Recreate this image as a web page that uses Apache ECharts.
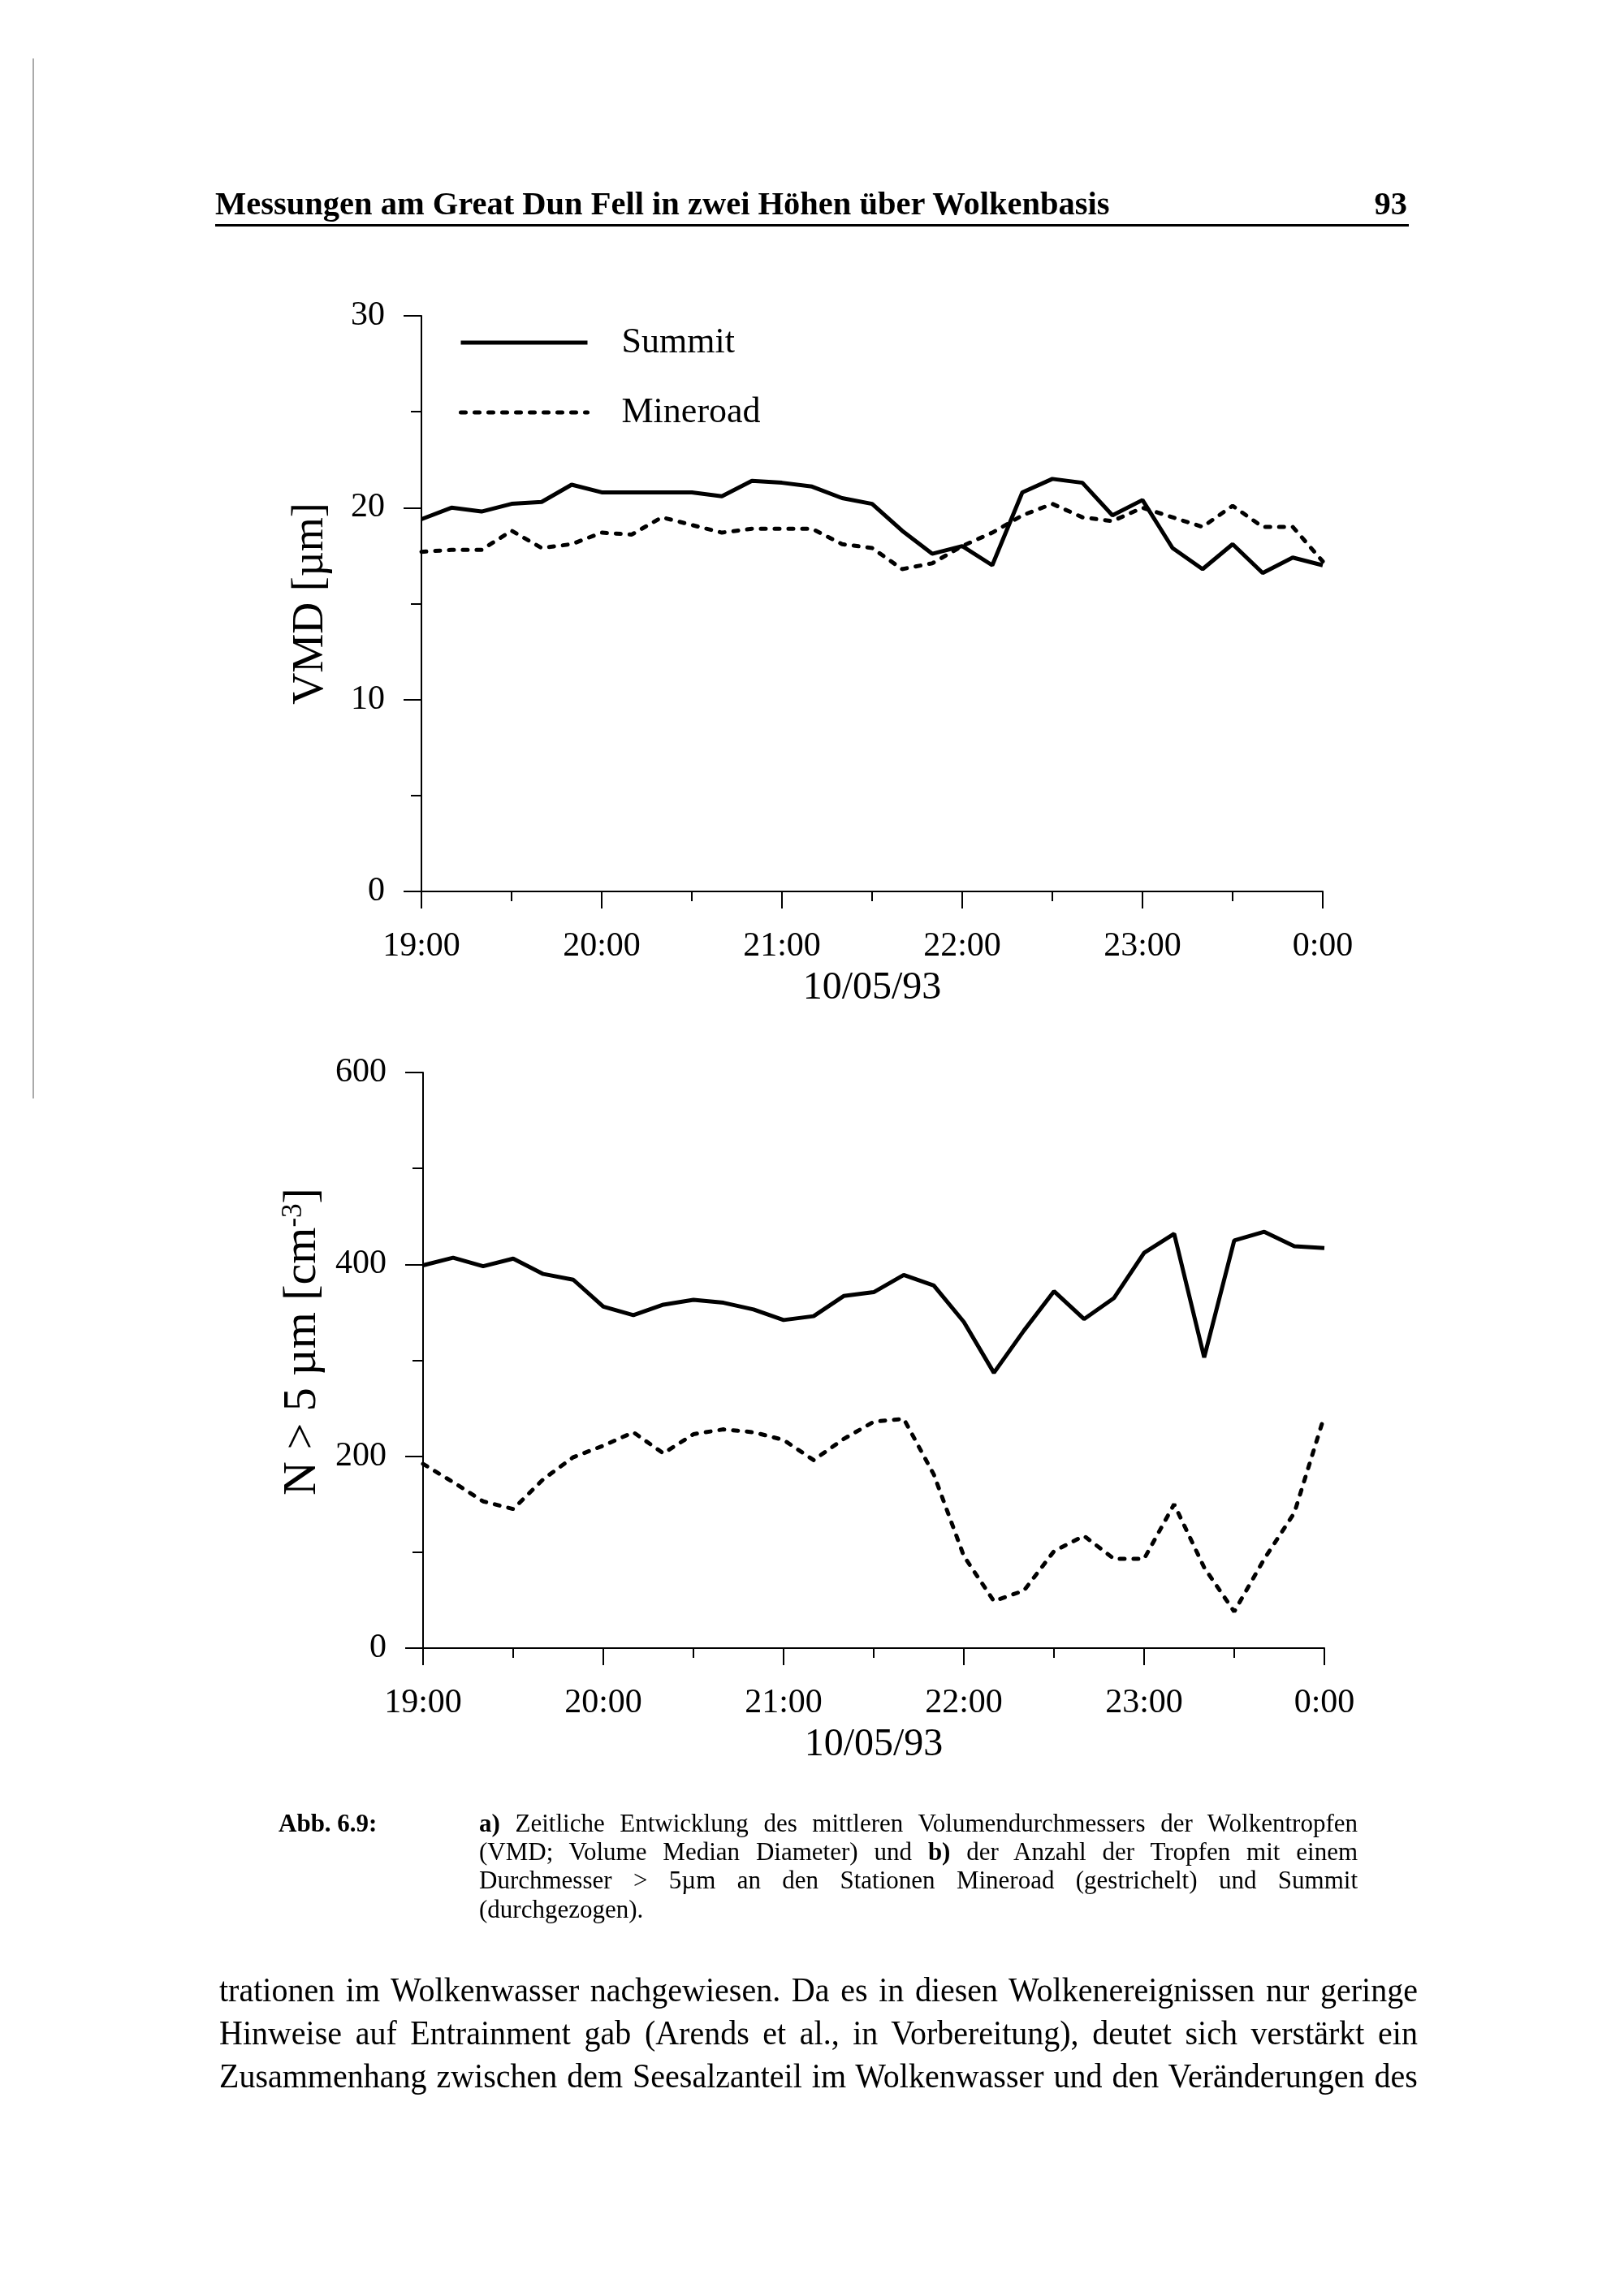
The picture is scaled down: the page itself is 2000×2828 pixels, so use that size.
<!DOCTYPE html>
<html><head><meta charset="utf-8">
<script src="https://cdn.jsdelivr.net/npm/echarts@6/dist/echarts.min.js"></script>
<style>
html,body{margin:0;padding:0;background:#fff;}
#chart{position:absolute;left:0;top:0;width:2000px;height:2828px;}
.t{position:absolute;font-family:'Liberation Serif','Times New Roman',serif;color:#000;white-space:nowrap;}
.j{text-align:justify;text-align-last:justify;}
.b{transform:scaleX(0.93);transform-origin:0 0;width:1587px;font-size:43px;line-height:43px;left:270px;}
</style></head><body>
<div id="chart"></div>

<div class="t" style="left:265px;top:231px;font-size:40.5px;line-height:40px;font-weight:bold;">Messungen am Great Dun Fell in zwei Höhen über Wolkenbasis</div>
<div class="t" style="right:267px;top:231px;font-size:40.5px;line-height:40px;font-weight:bold;">93</div>
<div style="position:absolute;left:265px;top:276px;width:1470px;height:3px;background:#000;"></div>

<div class="t" style="left:343px;top:2230px;font-size:31px;line-height:31px;font-weight:bold;">Abb. 6.9:</div>
<div class="t j" style="left:590px;width:1082px;top:2230px;font-size:31px;line-height:31px;"><b>a)</b> Zeitliche Entwicklung des mittleren Volumendurchmessers der Wolkentropfen</div>
<div class="t j" style="left:590px;width:1082px;top:2265px;font-size:31px;line-height:31px;">(VMD; Volume Median Diameter) und <b>b)</b> der Anzahl der Tropfen mit einem</div>
<div class="t j" style="left:590px;width:1082px;top:2300px;font-size:31px;line-height:31px;">Durchmesser &gt; 5µm an den Stationen Mineroad (gestrichelt) und Summit</div>
<div class="t" style="left:590px;top:2336px;font-size:31px;line-height:31px;">(durchgezogen).</div>

<div class="t j b" style="top:2429px;">trationen im Wolkenwasser nachgewiesen. Da es in diesen Wolkenereignissen nur geringe</div>
<div class="t j b" style="top:2482px;">Hinweise auf Entrainment gab (Arends et al., in Vorbereitung), deutet sich verstärkt ein</div>
<div class="t j b" style="top:2535px;">Zusammenhang zwischen dem Seesalzanteil im Wolkenwasser und den Veränderungen des</div>

<script>
// ---- data ----
const minutes = [0,10,20,30,40,50,60,70,80,90,100,110,120,130,140,150,160,170,180,190,200,210,220,230,240,250,260,270,280,290,300];
const hourLabels = ['19:00','20:00','21:00','22:00','23:00','0:00'];
const dateLabel = '10/05/93';
const vmdSummit   = [19.4,20.0,19.8,20.2,20.3,21.2,20.8,20.8,20.8,20.8,20.6,21.4,21.3,21.1,20.5,20.2,18.8,17.6,18.0,17.0,20.8,21.5,21.3,19.6,20.4,17.9,16.8,18.1,16.6,17.4,17.0];
const vmdMineroad = [17.7,17.8,17.8,18.8,17.9,18.1,18.7,18.6,19.5,19.1,18.7,18.9,18.9,18.9,18.1,17.9,16.8,17.1,18.0,18.7,19.6,20.2,19.5,19.3,20.0,19.5,19.0,20.1,19.0,19.0,17.2];
const nSummit   = [399,407,398,406,390,384,356,347,358,363,360,353,342,346,367,371,389,378,340,287,331,372,343,365,412,432,303,425,434,419,417];
const nMineroad = [192,173,153,145,176,199,211,225,203,223,228,225,217,196,218,236,239,181,96,49,60,101,117,93,93,150,84,38,93,141,242];
const seriesNames = ['Summit','Mineroad'];
const vmdTitle = 'VMD [µm]';
const nTitle = 'N > 5 µm [cm{sup|-3}]';

const FONT = "'Liberation Serif','Times New Roman',serif";
const pairs = (ys) => minutes.map((m,i) => [m, ys[i]]);

function xAxisCfg(g){
  return {
    type:'value', gridIndex:g, min:0, max:300, interval:60,
    axisLine:{show:true, onZero:false, lineStyle:{color:'#000', width:2}},
    axisTick:{show:true, length:21, lineStyle:{color:'#000', width:2}},
    minorTick:{show:true, splitNumber:2, length:12, lineStyle:{color:'#000', width:2}},
    splitLine:{show:false}, minorSplitLine:{show:false},
    axisLabel:{margin:47, fontSize:42, fontFamily:FONT, color:'#000',
      formatter:(v)=>hourLabels[Math.round(v/60)]},
    name:dateLabel, nameLocation:'middle', nameGap:95,
    nameTextStyle:{fontSize:48, fontFamily:FONT, color:'#000'}
  };
}
function yAxisCfg(g, max, interval, name, fs, gap, pad){
  return {
    type:'value', gridIndex:g, min:0, max:max, interval:interval,
    axisLine:{show:true, onZero:false, lineStyle:{color:'#000', width:2}},
    axisTick:{show:true, length:22, lineStyle:{color:'#000', width:2}},
    minorTick:{show:true, splitNumber:2, length:13, lineStyle:{color:'#000', width:2}},
    splitLine:{show:false}, minorSplitLine:{show:false},
    axisLabel:{margin:45, fontSize:42, fontFamily:FONT, color:'#000'},
    name:name, nameLocation:'middle', nameGap:gap,
    nameTextStyle:{fontSize:fs, fontFamily:FONT, color:'#000', padding:pad,
      rich:{sup:{fontSize:Math.round(fs*0.6), fontFamily:FONT, color:'#000', verticalAlign:'top'}}}
  };
}
const solid = {color:'#000', width:5, type:'solid'};
const dashed = {color:'#000', width:5, type:[6,11], cap:'round'};

const chart = echarts.init(document.getElementById('chart'), null, {renderer:'canvas', width:2000, height:2828});
chart.setOption({
  animation:false,
  backgroundColor:'#fff',
  grid:[
    {left:519, width:1110, top:389, height:709},
    {left:521, width:1110, top:1321, height:709}
  ],
  xAxis:[xAxisCfg(0), xAxisCfg(1)],
  yAxis:[yAxisCfg(0,30,10,vmdTitle,54,109,[0,0,0,0]), yAxisCfg(1,600,200,nTitle,58,105,[0,0,0,46])],
  legend:{
    data:seriesNames, orient:'vertical', left:560, top:395,
    itemWidth:156, itemHeight:14, itemGap:42, selectedMode:false,
    itemStyle:{color:'rgba(0,0,0,0)', borderColor:'rgba(0,0,0,0)', borderWidth:0, opacity:0},
    lineStyle:{width:5, color:'#000'},
    textStyle:{fontSize:44, fontFamily:FONT, color:'#000', padding:[0,0,0,37]}
  },
  graphic:[
    {type:'line', shape:{x1:41, y1:72, x2:41, y2:1353}, style:{stroke:'#aaa', lineWidth:2}}
  ],
  series:[
    {name:seriesNames[0], type:'line', xAxisIndex:0, yAxisIndex:0, data:pairs(vmdSummit), symbol:'none', lineStyle:solid, itemStyle:{color:'#000'}},
    {name:seriesNames[1], type:'line', xAxisIndex:0, yAxisIndex:0, data:pairs(vmdMineroad), symbol:'none', lineStyle:dashed, itemStyle:{color:'#000'}},
    {name:seriesNames[0], type:'line', xAxisIndex:1, yAxisIndex:1, data:pairs(nSummit), symbol:'none', lineStyle:solid, itemStyle:{color:'#000'}},
    {name:seriesNames[1], type:'line', xAxisIndex:1, yAxisIndex:1, data:pairs(nMineroad), symbol:'none', lineStyle:dashed, itemStyle:{color:'#000'}}
  ]
});
</script>
</body></html>
